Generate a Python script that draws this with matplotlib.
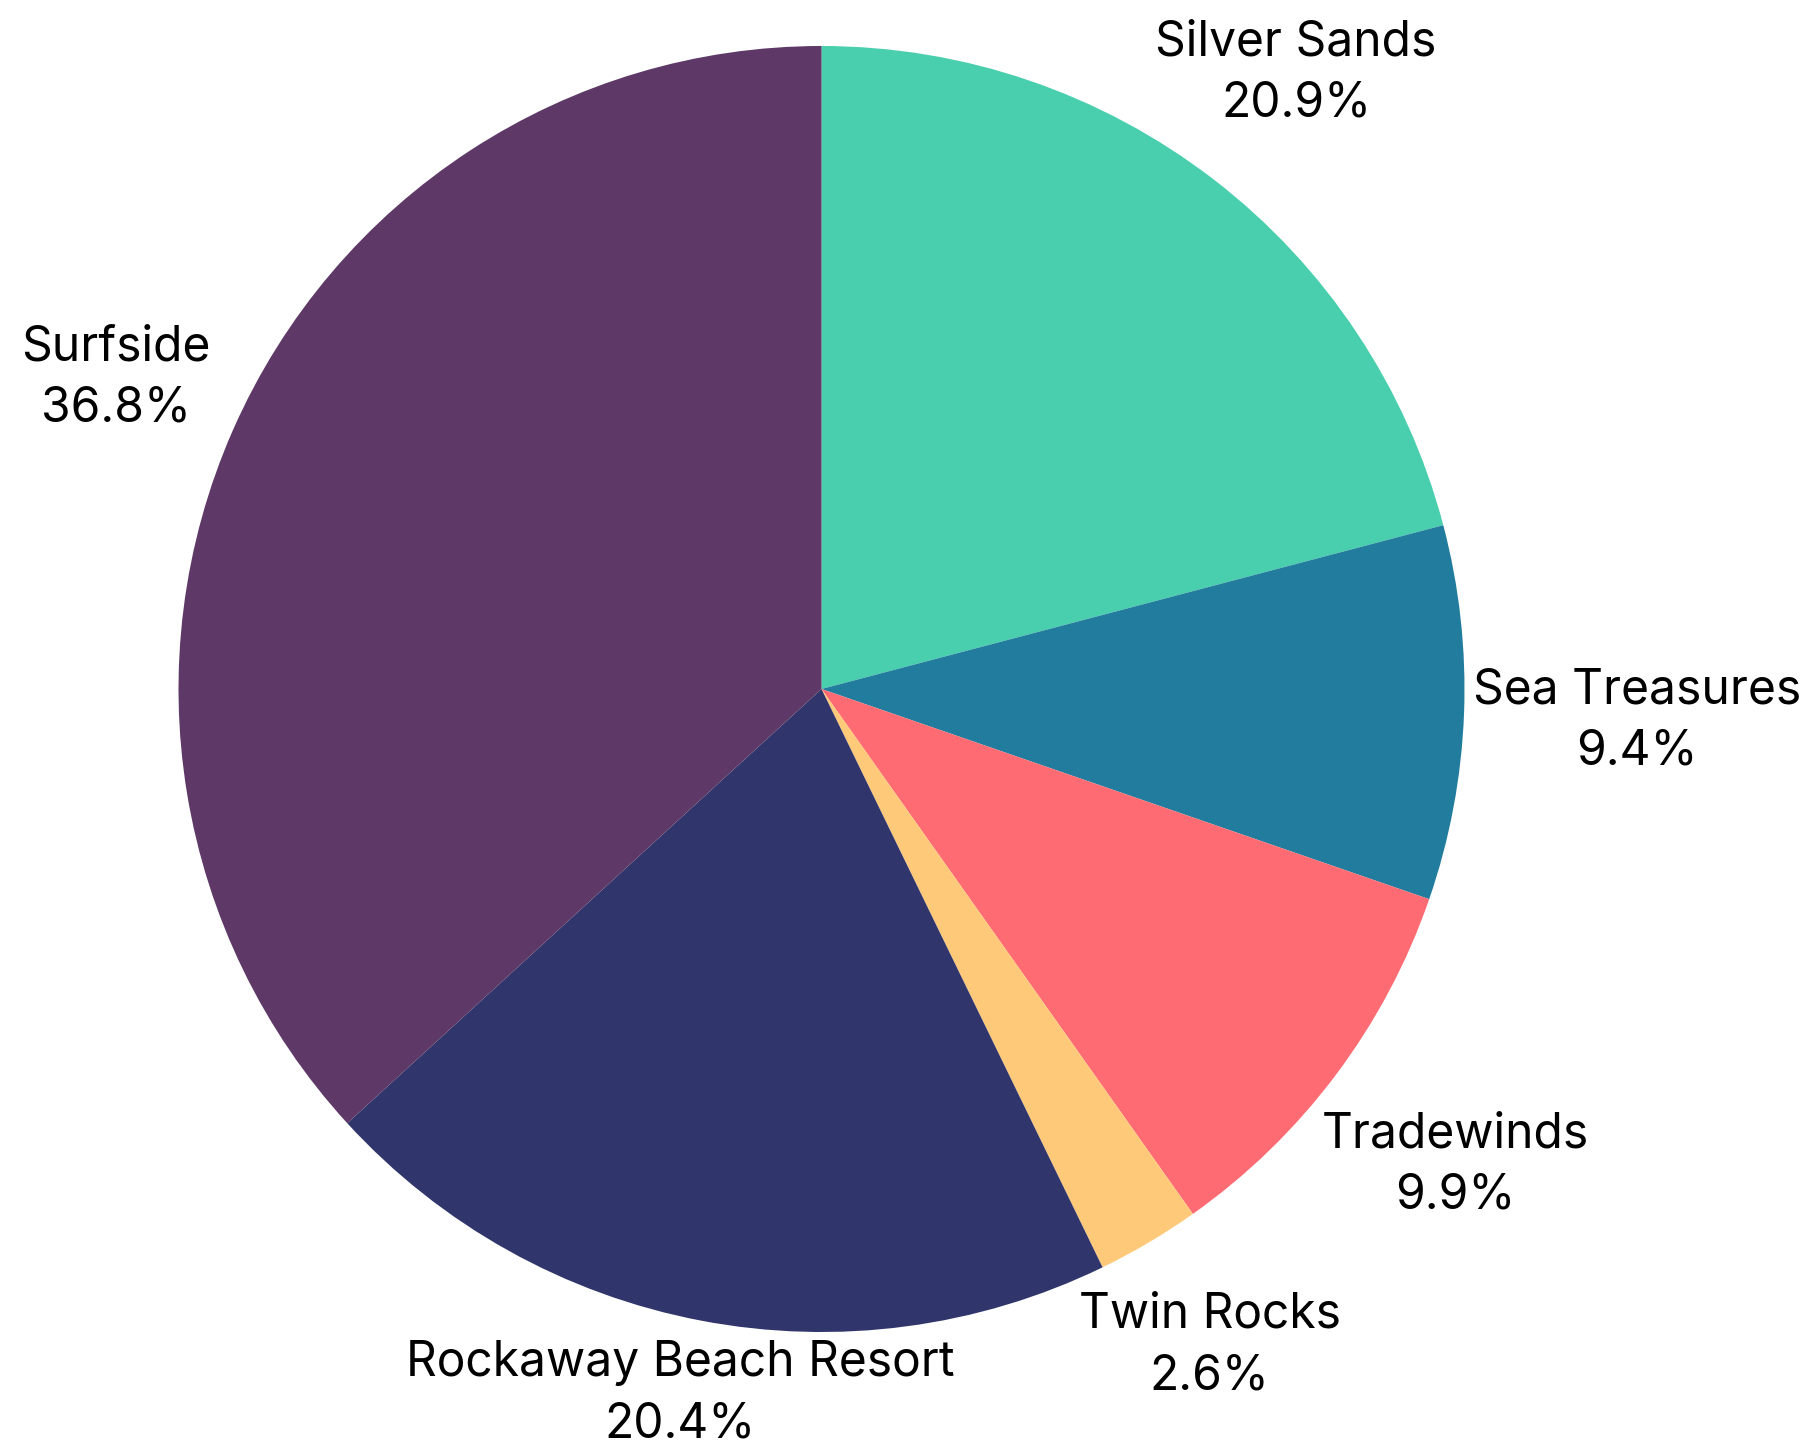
import numpy as np
import matplotlib.pyplot as plt

plt.rcParams['font.family'] = ['Inter', 'DejaVu Sans']

labels = ['Silver Sands', 'Sea Treasures', 'Tradewinds', 'Twin Rocks',
          'Rockaway Beach Resort', 'Surfside']
shares = [20.9, 9.4, 9.9, 2.6, 20.4, 36.8]
colors = ['#4acfae', '#227c9d', '#ff6b72', '#ffc97a', '#30356b', '#5e3866']

W, H = 1809, 1455
fig = plt.figure(figsize=(W / 100, H / 100), dpi=100)
cx, cy, r = 821.5, 1455 - 689, 643
ax = fig.add_axes([(cx - r) / W, (cy - r) / H, 2 * r / W, 2 * r / H])

wedges, _ = ax.pie(shares, colors=colors, startangle=90, counterclock=False,
                   radius=1.0)
ax.set_xlim(-1, 1)
ax.set_ylim(-1, 1)
ax.set_aspect('auto')
ax.axis('off')

fig.canvas.draw()
renderer = fig.canvas.get_renderer()
k = 1.06
margin = 8
for w, lab, s in zip(wedges, labels, shares):
    ang = np.deg2rad((w.theta1 + w.theta2) / 2)
    t = ax.text(0, 0, f'{lab}\n{s:.1f}%', ha='center', va='center',
                fontsize=34.5, linespacing=1.42, multialignment='center',
                color='black')
    bb = t.get_window_extent(renderer)
    hw = bb.width / 2 / r
    hh = bb.height / 2 / r
    d = k + np.hypot(hw * np.cos(ang), hh * np.sin(ang))
    x, y = d * np.cos(ang), d * np.sin(ang)
    # keep the label inside the figure
    px = cx + x * r
    py = cy + y * r
    dx = min(0, W - margin - (px + bb.width / 2)) + max(0, margin - (px - bb.width / 2))
    dy = min(0, H - margin - (py + bb.height / 2)) + max(0, margin - (py - bb.height / 2))
    t.set_position((x + dx / r, y + dy / r))

fig.savefig('out.png', dpi=100)
